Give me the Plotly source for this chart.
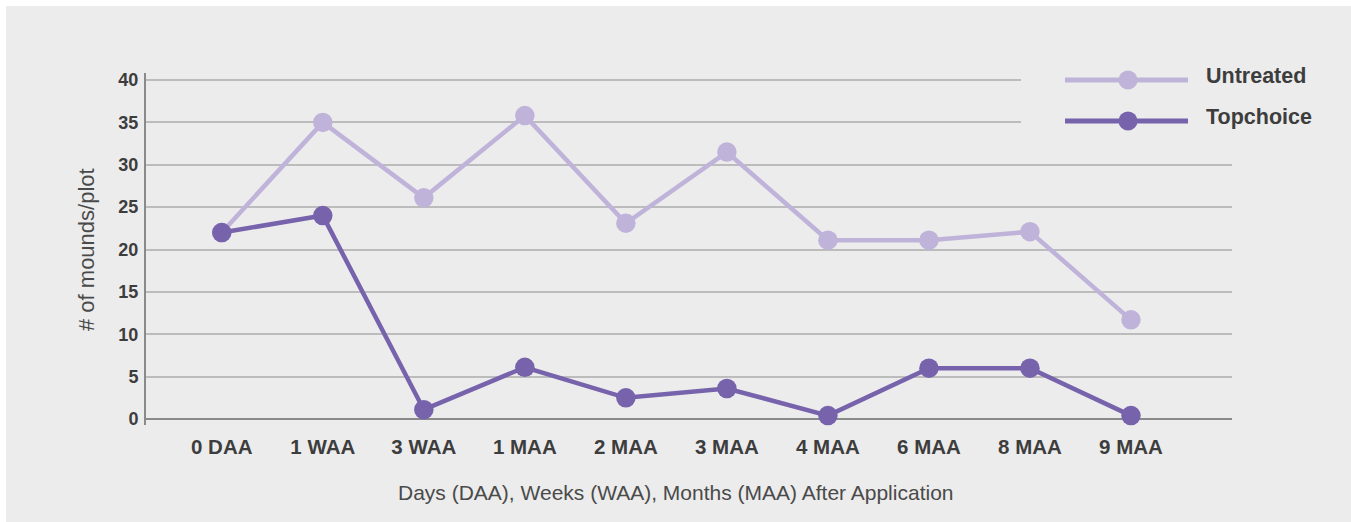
import plotly.graph_objects as go

categories = ["0 DAA", "1 WAA", "3 WAA", "1 MAA", "2 MAA", "3 MAA", "4 MAA", "6 MAA", "8 MAA", "9 MAA"]
untreated = [22, 35, 26.1, 35.8, 23.1, 31.5, 21.1, 21.1, 22.1, 11.7]
topchoice = [22, 24, 1.1, 6.1, 2.5, 3.6, 0.4, 6.0, 6.0, 0.4]
y_ticks = [0, 5, 10, 15, 20, 25, 30, 35, 40]
series_names = ["Untreated", "Topchoice"]

C_UN = "#bfb3da"
C_TC = "#7762ac"
BG = "#ececec"
FONT = "Liberation Sans, Arial, Helvetica, sans-serif"
TXT = "#3d3d3d"

W, H = 1351, 522
L, R, T, B = 146, 1232, 73, 425
pw, ph = R - L, B - T


def px(x):
    return (x - L) / pw


def py(y):
    return (B - y) / ph


xs = list(range(len(categories)))

fig = go.Figure()
for name, vals, col in [(series_names[0], untreated, C_UN), (series_names[1], topchoice, C_TC)]:
    fig.add_trace(go.Scatter(
        x=xs, y=vals, name=name, mode="lines+markers",
        line=dict(color=col, width=4.5),
        marker=dict(color=col, size=19.5),
        showlegend=False, cliponaxis=False,
    ))

shapes = [
    # white border strips
    dict(type="rect", xref="paper", yref="paper", x0=px(0), x1=px(W), y0=py(6), y1=py(0),
         fillcolor="white", line_width=0, layer="above"),
    dict(type="rect", xref="paper", yref="paper", x0=px(0), x1=px(6), y0=py(H), y1=py(0),
         fillcolor="white", line_width=0, layer="above"),
    # legend box hiding gridlines
    dict(type="rect", xref="paper", yref="paper", x0=px(1021), x1=px(1240), y0=py(140), y1=py(60),
         fillcolor=BG, line_width=0, layer="above"),
]
annotations = []
for i, (name, col) in enumerate([(series_names[0], C_UN), (series_names[1], C_TC)]):
    ly = 80 if i == 0 else 121
    shapes.append(dict(type="line", xref="paper", yref="paper", x0=px(1065), x1=px(1188),
                       y0=py(ly), y1=py(ly), line=dict(color=col, width=5), layer="above"))
    shapes.append(dict(type="circle", xref="paper", yref="paper", xsizemode="pixel", ysizemode="pixel",
                       xanchor=px(1128), yanchor=py(ly), x0=-9.5, x1=9.5, y0=-9.5, y1=9.5,
                       fillcolor=col, line_width=0, layer="above"))
    annotations.append(dict(xref="paper", yref="paper", x=px(1204), y=py(ly - 4), text="<b>%s</b>" % name,
                            showarrow=False, xanchor="left", yanchor="middle",
                            font=dict(family=FONT, size=21.5, color=TXT)))

annotations.append(dict(xref="paper", yref="paper", x=px(86), y=py(250), text="# of mounds/plot",
                        textangle=-90, showarrow=False, xanchor="center", yanchor="middle",
                        font=dict(family=FONT, size=22, color="#4a4a4a")))
annotations.append(dict(xref="paper", yref="paper", x=px(676), y=py(492),
                        text="Days (DAA), Weeks (WAA), Months (MAA) After Application",
                        showarrow=False, xanchor="center", yanchor="middle",
                        font=dict(family=FONT, size=21, color="#4a4a4a")))

fig.update_layout(
    width=W, height=H,
    margin=dict(l=L, r=W - R, t=T, b=H - B, pad=0),
    paper_bgcolor=BG, plot_bgcolor=BG,
    showlegend=False,
    shapes=shapes, annotations=annotations,
    xaxis=dict(
        range=[-0.75, 10.0], tickmode="array", tickvals=xs,
        ticktext=["<b>%s</b>" % c for c in categories],
        tickfont=dict(family=FONT, size=20.5, color=TXT),
        showgrid=False, zeroline=False, showline=False,
        ticks="outside", ticklen=3, tickcolor="rgba(0,0,0,0)",
    ),
    yaxis=dict(
        range=[-6 / 8.475, 40 + 7 / 8.475], tickmode="array", tickvals=y_ticks,
        ticktext=["<b>%d</b>" % v for v in y_ticks],
        tickfont=dict(family=FONT, size=18, color=TXT),
        showgrid=True, gridcolor="#bcbcbc", gridwidth=1.5,
        zeroline=True, zerolinecolor="#8a8a8a", zerolinewidth=2,
        showline=True, linecolor="#8a8a8a", linewidth=2,
        ticks="outside", ticklen=2, tickcolor="rgba(0,0,0,0)",
    ),
)

fig.write_html(
    "out.html",
    config={"displayModeBar": False},
    post_script="document.body.style.margin='0';document.body.style.overflow='hidden';"
                "document.body.style.background='#ececec';",
)
